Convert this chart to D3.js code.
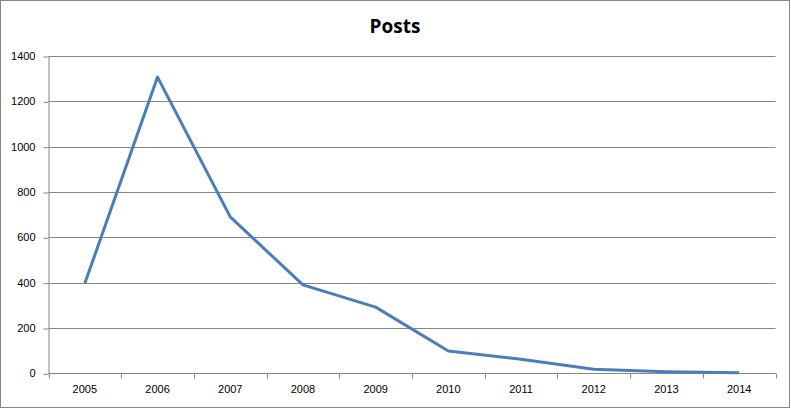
<!DOCTYPE html>
<html><head><meta charset="utf-8">
<script src="https://cdn.jsdelivr.net/npm/d3@7"></script>
<style>body{margin:0;background:#fff}svg{display:block}</style>
</head><body>
<script>
const years = ["2005","2006","2007","2008","2009","2010","2011","2012","2013","2014"];
const posts = [397, 1307, 690, 390, 292, 98, 62, 18, 7, 2];
const yTicks = [0,200,400,600,800,1000,1200,1400];

const W=791,H=408;
const svg=d3.select("body").append("svg").attr("width",W).attr("height",H);
svg.append("rect").attr("x",0.5).attr("y",0.5).attr("width",789).attr("height",407)
  .attr("fill","#fff").attr("stroke","#868686");
const L=48.5,R=775.5,T=56,B=373.3;
const x=d3.scaleBand().domain(years).range([L,R]);
const y=d3.scaleLinear().domain([0,1400]).range([B,T]);
const font="'Liberation Sans', Arial, sans-serif";
// gridlines
svg.append("g").selectAll("line").data(yTicks).join("line")
  .attr("x1",L).attr("x2",R).attr("y1",d=>Math.round(y(d))+0.5).attr("y2",d=>Math.round(y(d))+0.5)
  .attr("stroke","#868686").attr("stroke-width",1);
// y axis
const ya=svg.append("g").attr("transform",`translate(${L},0)`)
  .call(d3.axisLeft(y).tickValues(yTicks).tickSize(5).tickPadding(8).tickFormat(d3.format("d")));
ya.select(".domain").attr("stroke","#868686").attr("d",`M0.5,${T}V${B}`);
ya.selectAll(".tick line").attr("stroke","#868686").attr("transform","translate(0,0.5)");
ya.selectAll(".tick text").attr("font-family",font).attr("font-size",11).attr("fill","#000");
// x axis
const xa=svg.append("g").attr("transform",`translate(0,${Math.round(B)+0.5})`)
  .call(d3.axisBottom(x).tickSize(0).tickPadding(12));
xa.select(".domain").attr("stroke","#868686").attr("d",`M${L},0H${R}`);
xa.selectAll(".tick text").attr("font-family",font).attr("font-size",11).attr("fill","#000");
// band boundary ticks
const bounds=years.map(d=>x(d)).concat([R]);
xa.append("g").selectAll("line").data(bounds).join("line")
  .attr("x1",d=>Math.round(d)+0.5).attr("x2",d=>Math.round(d)+0.5).attr("y1",0).attr("y2",5)
  .attr("stroke","#868686");
// line
const line=d3.line().x((d,i)=>x(years[i])+x.bandwidth()/2).y(d=>y(d));
svg.append("path").datum(posts).attr("d",line).attr("fill","none")
  .attr("stroke","#4a7ebb").attr("stroke-width",3).attr("stroke-linejoin","round");
// title
svg.append("text").attr("x",395).attr("y",33).attr("text-anchor","middle")
  .attr("font-family","'Open Sans', 'Liberation Sans', sans-serif").attr("font-weight","bold")
  .attr("font-size",19).attr("fill","#000").text("Posts");
</script>
</body></html>
